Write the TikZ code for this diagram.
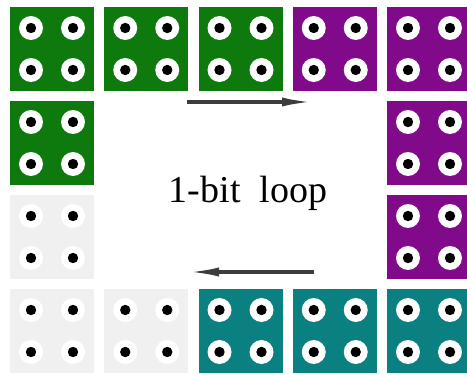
\documentclass[tikz,border=0pt]{standalone}
\usepackage{fontspec}
\setmainfont{Liberation Serif}
\usetikzlibrary{arrows.meta}
\definecolor{cgreen}{RGB}{14,122,14}
\definecolor{cpurple}{RGB}{128,10,138}
\definecolor{cteal}{RGB}{10,128,128}
\definecolor{cgray}{RGB}{240,240,240}
\definecolor{carrow}{RGB}{60,60,60}
\tikzset{
  cell/.style={minimum size=84pt, inner sep=0pt, outer sep=0pt, anchor=north west, draw=none},
  ring/.style={circle, fill=white, minimum size=24pt, inner sep=0pt},
  hole/.style={circle, fill=black, minimum size=10pt, inner sep=0pt},
  flow/.style={draw=carrow, line width=3.5pt, -{Latex[length=32pt,width=9pt]}},
}
\newcommand{\mycell}[4]{% name, col, row, colour
  \node[cell, fill=#4] (#1) at ({10+94.25*#2},{7+94*#3}) {};
  \foreach \dx/\dy in {21/21,63/21,21/63,63/63}{
    \ifx#4cgray
      \fill[white, opacity=0.6] ($(#1.north west)+(\dx,\dy)$) circle (12pt);
    \else
      \fill[white] ($(#1.north west)+(\dx,\dy)$) circle (12pt);
    \fi
    \fill[black] ($(#1.north west)+(\dx,\dy)$) circle (5.2pt);
  }
}
\usetikzlibrary{calc}
\begin{document}
\begin{tikzpicture}[x=1pt,y=-1pt]
\useasboundingbox (0,0) rectangle (467,375);
\clip (0,0) rectangle (467,375);
\mycell{a1}{0}{0}{cgreen}
\mycell{a2}{1}{0}{cgreen}
\mycell{a3}{2}{0}{cgreen}
\mycell{a4}{3}{0}{cpurple}
\mycell{a5}{4}{0}{cpurple}
\mycell{b1}{0}{1}{cgreen}
\mycell{b5}{4}{1}{cpurple}
\mycell{c1}{0}{2}{cgray}
\mycell{c5}{4}{2}{cpurple}
\mycell{d1}{0}{3}{cgray}
\mycell{d2}{1}{3}{cgray}
\mycell{d3}{2}{3}{cteal}
\mycell{d4}{3}{3}{cteal}
\mycell{d5}{4}{3}{cteal}
\coordinate (t1) at (187,102);
\coordinate (t2) at (314,102);
\coordinate (u1) at (314,272);
\coordinate (u2) at (187,272);
\draw[flow] (t1) -- (t2);
\draw[flow] (u1) -- (u2);
\node[anchor=base, font=\fontsize{38}{40}\selectfont, inner sep=0pt] (lbl) at (248,202) {1-bit\ \ loop};
\end{tikzpicture}
\end{document}
